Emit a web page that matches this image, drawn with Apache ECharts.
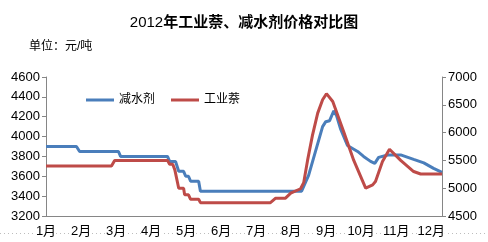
<!DOCTYPE html>
<html>
<head>
<meta charset="utf-8">
<script src="https://cdn.jsdelivr.net/npm/echarts@6/dist/echarts.min.js"></script>
<style>
  html, body { margin: 0; padding: 0; background: #fff; }
  #chart { width: 488px; height: 242px; }
</style>
</head>
<body>
<div id="chart"></div>
<script>
// 月份刻度
const monthLabels = ['1月', '2月', '3月', '4月', '5月', '6月', '7月', '8月', '9月', '10月', '11月', '12月']

// 减水剂（左轴，元/吨），位置按月计：1 = 1月初
const jsjPos = [1.0, 1.87, 1.96, 3.07, 3.13, 4.47, 4.53, 4.70, 4.79, 4.93, 4.99, 5.07, 5.13, 5.36, 5.41,
  8.30, 8.50, 8.90, 8.99, 9.10, 9.22, 9.30, 9.41, 9.61, 9.90, 10.07, 10.27, 10.39, 10.50, 10.76,
  11.13, 11.50, 11.79, 12.07, 12.31]
const jsjPrice = [3900, 3900, 3850, 3850, 3800, 3800, 3750, 3750, 3650, 3650, 3600, 3600, 3550, 3550, 3450,
  3450, 3610, 4100, 4150, 4160, 4260, 4210, 4080, 3910, 3850, 3800, 3750, 3730, 3790, 3815,
  3815, 3770, 3735, 3680, 3640]

// 工业萘（右轴，元/吨）
const gynPos = [1.0, 2.87, 2.96, 4.47, 4.53, 4.62, 4.68, 4.79, 4.93, 4.96, 5.07, 5.13, 5.36, 5.41,
  7.41, 7.56, 7.84, 7.99, 8.27, 8.36, 8.47, 8.61, 8.76, 8.90, 9.01, 9.19, 9.50, 9.79,
  10.13, 10.33, 10.41, 10.61, 10.81, 11.13, 11.50, 11.70, 12.31]
const gynPrice = [5400, 5400, 5500, 5500, 5430, 5430, 5330, 5000, 5000, 4880, 4880, 4800, 4800, 4740,
  4740, 4820, 4820, 4910, 4990, 5100, 5500, 5950, 6350, 6590, 6700, 6560, 6020, 5500,
  5000, 5060, 5120, 5480, 5700, 5500, 5300, 5255, 5255]

const font = 'Liberation Sans, Arial, Noto Sans CJK SC, sans-serif'
const axisColor = '#868686'

const myChart = echarts.init(document.getElementById('chart'))
myChart.setOption({
  animation: false,
  textStyle: { fontFamily: font },
  title: [{
    text: '{a|2012}{b|年工业萘、减水剂价格对比图}',
    left: 'center',
    top: 10,
    textStyle: {
      rich: {
        a: { fontSize: 15, fontWeight: 'normal', color: '#000', fontFamily: font },
        b: { fontSize: 15, fontWeight: 'bold', color: '#000', fontFamily: font }
      }
    }
  }, {
    text: '单位：元/吨',
    left: 24,
    top: 36,
    textStyle: { fontSize: 12, fontWeight: 'normal', color: '#000', fontFamily: font }
  }],
  legend: {
    left: 81,
    top: 89,
    icon: 'rect',
    itemWidth: 28,
    itemHeight: 3,
    itemGap: 16,
    textStyle: { fontSize: 12, color: '#000', fontFamily: font },
    data: ['减水剂', '工业萘']
  },
  graphic: [{
    type: 'line',
    z: -1,
    shape: { x1: 0, y1: 233.5, x2: 488, y2: 233.5 },
    style: { stroke: '#bdbdbd', lineWidth: 1, lineDash: [1, 3] }
  }],
  grid: { left: 46, right: 46, top: 77, bottom: 26 },
  xAxis: {
    type: 'value',
    min: 1,
    max: 12.31,
    interval: 1,
    splitLine: { show: false },
    axisTick: { show: false },
    axisLine: { lineStyle: { color: axisColor } },
    axisLabel: {
      color: '#000',
      fontSize: 13,
      margin: 9,
      backgroundColor: '#fff',
      showMaxLabel: false,
      formatter: function(v) {
        return Number.isInteger(v) ? monthLabels[v - 1] : ''
      }
    }
  },
  yAxis: [{
    type: 'value',
    min: 3200,
    max: 4600,
    interval: 200,
    splitLine: { show: false },
    axisLine: { show: true, lineStyle: { color: axisColor } },
    axisTick: { show: true, length: 4, lineStyle: { color: axisColor } },
    axisLabel: { color: '#000', fontSize: 13, margin: 6, formatter: v => String(v) }
  }, {
    type: 'value',
    min: 4500,
    max: 7000,
    interval: 500,
    position: 'right',
    splitLine: { show: false },
    axisLine: { show: true, lineStyle: { color: axisColor } },
    axisTick: { show: true, length: 4, lineStyle: { color: axisColor } },
    axisLabel: { color: '#000', fontSize: 13, margin: 6, formatter: v => String(v) }
  }],
  series: [{
    name: '减水剂',
    type: 'line',
    yAxisIndex: 0,
    symbol: 'none',
    lineStyle: { width: 3, color: '#4A7EBB' },
    itemStyle: { color: '#4A7EBB' },
    data: jsjPos.map((x, i) => [x, jsjPrice[i]])
  }, {
    name: '工业萘',
    type: 'line',
    yAxisIndex: 1,
    symbol: 'none',
    lineStyle: { width: 3, color: '#BE4B48' },
    itemStyle: { color: '#BE4B48' },
    data: gynPos.map((x, i) => [x, gynPrice[i]])
  }]
})
</script>
</body>
</html>
